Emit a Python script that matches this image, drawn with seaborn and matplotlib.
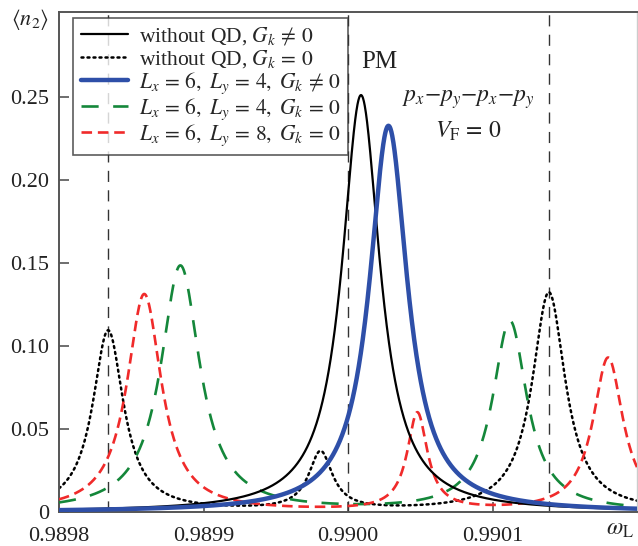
import numpy as np
import pandas as pd
import matplotlib
matplotlib.use("Agg")
import matplotlib.pyplot as plt
import seaborn as sns

# Resonance peaks of each spectrum: centre frequency, peak height, half-width
solid_centers = [0.990009]
solid_heights = [0.251]
solid_widths = [1.6e-5]

dotted_centers = [0.989834, 0.989981, 0.990139]
dotted_heights = [0.109, 0.035, 0.132]
dotted_widths = [1.3e-5, 1.0e-5, 1.4e-5]

blue_centers = [0.990028]
blue_heights = [0.2325]
blue_widths = [1.6e-5]

green_centers = [0.989884, 0.990112]
green_heights = [0.148, 0.1145]
green_widths = [1.65e-5, 1.45e-5]

red_centers = [0.989859, 0.990048, 0.990180]
red_heights = [0.131, 0.0585, 0.0925]
red_widths = [1.45e-5, 0.85e-5, 1.27e-5]

# Positions of the vertical reference lines
vlines = [0.989834, 0.990000, 0.990139]

labels = [
    r"without QD, $G_k\,\neq\,0$",
    r"without QD, $G_k\,=\,0$",
    r"$L_x\,=\,6,\ L_y\,=\,4,\ G_k\,\neq\,0$",
    r"$L_x\,=\,6,\ L_y\,=\,4,\ G_k\,=\,0$",
    r"$L_x\,=\,6,\ L_y\,=\,8,\ G_k\,=\,0$",
]
xticks = [0.9898, 0.9899, 0.9900, 0.9901]
xticklabels = ["0.9898", "0.9899", "0.9900", "0.9901"]
yticks = [0, 0.05, 0.10, 0.15, 0.20, 0.25]
yticklabels = ["0", "0.05", "0.10", "0.15", "0.20", "0.25"]

omega = np.linspace(0.9898, 0.9902, 2001)


def spectrum(centers, heights, widths):
    total = np.zeros_like(omega)
    for c, h, w in zip(centers, heights, widths):
        total += h * w**2 / ((omega - c) ** 2 + w**2)
    return total


sns.set_theme(style="ticks")
plt.rcParams["font.family"] = ["Liberation Serif", "DejaVu Serif"]
plt.rcParams["mathtext.fontset"] = "stix"

fig = plt.figure(figsize=(6.38, 5.46), dpi=100)
ax = fig.add_axes([59 / 638, 1 - 512 / 546, 578 / 638, 500 / 546])

for xv in vlines:
    ax.axvline(xv, color="#333333", lw=1.0, linestyle=(0, (8, 6)), zorder=1)

series = [
    (solid_centers, solid_heights, solid_widths,
     dict(color="black", lw=1.6, linestyle="-"), 4),
    (dotted_centers, dotted_heights, dotted_widths,
     dict(color="black", lw=1.8, linestyle=(0, (0.8, 1.6)), dash_capstyle="round"), 2),
    (blue_centers, blue_heights, blue_widths,
     dict(color="#2e4fa8", lw=3.2, linestyle="-"), 5),
    (green_centers, green_heights, green_widths,
     dict(color="#14873a", lw=1.9, linestyle=(0, (6.5, 5.5))), 3),
    (red_centers, red_heights, red_widths,
     dict(color="#f02a2a", lw=1.9, linestyle=(0, (4, 2.2))), 3),
]

handles = []
for (c, h, w, style, z), lab in zip(series, labels):
    df = pd.DataFrame({"omega": omega, "n2": spectrum(c, h, w)})
    sns.lineplot(data=df, x="omega", y="n2", ax=ax, zorder=z, **style)
    handles.append(ax.lines[-1])

ax.set_xlim(0.9898, 0.9902)
ax.set_ylim(0, 0.301)
ax.set_xticks(xticks)
ax.set_xticklabels(xticklabels)
ax.set_yticks(yticks)
ax.set_yticklabels(yticklabels)
ax.set_xlabel("")
ax.set_ylabel("")
ax.tick_params(direction="in", length=7, width=1.2, color="#555555",
               labelsize=16, pad=7, labelcolor="#222222")
ax.tick_params(axis="x", pad=11)

for name, sp in ax.spines.items():
    sp.set_color("#555555")
    sp.set_linewidth(1.4)
ax.spines["right"].set_color("#cccccc")
ax.spines["right"].set_linewidth(1.0)

leg = ax.legend(handles, labels, loc="upper left",
                bbox_to_anchor=(14 / 578, 1 - 6 / 500), borderaxespad=0,
                fontsize=15.5, handlelength=2.2, handletextpad=0.5,
                labelspacing=0.02, borderpad=0.35, frameon=True, fancybox=False)
leg.get_frame().set_edgecolor("#333333")
leg.get_frame().set_linewidth(1.2)

ax.text(0.990022, 0.271, "PM", fontsize=18, ha="center", va="center", color="#222222")
ax.text(0.990083, 0.248, r"$p_x$$-$$p_y$$-$$p_x$$-$$p_y$", fontsize=17,
        ha="center", va="center", color="#222222")
ax.text(0.990083, 0.229, r"$V_{\rm F}\,=\,0$", fontsize=17,
        ha="center", va="center", color="#222222")

fig.text(30 / 638, 1 - 20 / 546, r"$\langle n_2 \rangle$", fontsize=16,
         ha="center", va="center", color="#222222")
fig.text(620 / 638, 1 - 530 / 546, r"$\omega_{\rm L}$", fontsize=17,
         ha="center", va="center", color="#222222")

fig.savefig("out.png", dpi=100)
